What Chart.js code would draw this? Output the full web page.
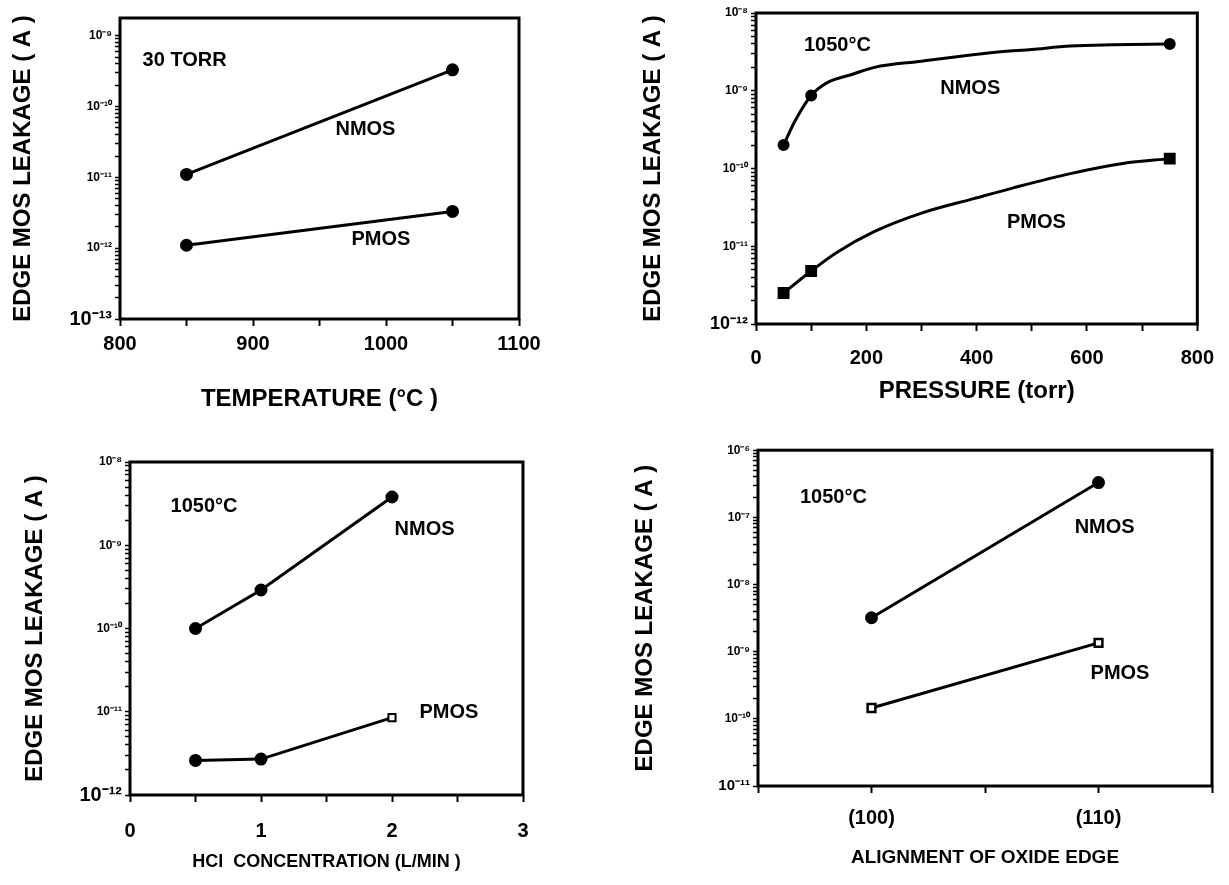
<!DOCTYPE html>
<html lang="en">

<head>
  <meta charset="UTF-8">
  <title>Edge MOS leakage</title>
  <style>
    body { margin: 0; background: #fff; width: 1229px; height: 885px; position: relative; overflow: hidden; }
    canvas { position: absolute; }
  </style>
</head>

<body>
  <canvas id="grafico1" width="560" height="430" style="left:0px;top:0px"></canvas>
  <canvas id="grafico2" width="629" height="430" style="left:600px;top:0px"></canvas>
  <canvas id="grafico3" width="560" height="445" style="left:0px;top:440px"></canvas>
  <canvas id="grafico4" width="609" height="445" style="left:620px;top:440px"></canvas>
</body>

</html>

<script src="https://cdn.jsdelivr.net/npm/chart.js"></script>

<script>
  // ---- dados ----
  // grafico 1: temperatura
  const tempC = [850, 1050];
  const nmosTemp = [1.1e-11, 3.3e-10];
  const pmosTemp = [1.1e-12, 3.3e-12];
  const tempLabels = [800, 900, 1000, 1100];
  const expTemp = [-13, -12, -11, -10, -9];

  // grafico 2: pressao (pontos medidos + curva desenhada)
  const pressPts = [50, 100, 750];
  const nmosPress = [2.0e-10, 8.7e-10, 4.0e-9];
  const pmosPress = [2.5e-12, 4.8e-12, 1.34e-10];
  const nmosCurvaX = [50, 70, 100, 130, 175, 215, 300, 375, 430, 500, 570, 645, 750];
  const nmosCurvaY = [2.0e-10, 4.0e-10, 8.7e-10, 1.28e-9, 1.63e-9, 2.0e-9, 2.4e-9, 2.8e-9, 3.1e-9, 3.4e-9, 3.75e-9, 3.9e-9, 4.0e-9];
  const pmosCurvaX = [50, 100, 145, 215, 300, 395, 465, 570, 665, 750];
  const pmosCurvaY = [2.5e-12, 4.8e-12, 8.2e-12, 1.55e-11, 2.67e-11, 4.1e-11, 5.6e-11, 8.6e-11, 1.16e-10, 1.34e-10];
  const pressLabels = [0, 200, 400, 600, 800];
  const expPress = [-12, -11, -10, -9, -8];

  // grafico 3: HCl
  const hclFluxo = [0.5, 1, 2];
  const nmosHcl = [1.0e-10, 2.9e-10, 3.8e-9];
  const pmosHcl = [2.6e-12, 2.7e-12, 8.5e-12];
  const hclLabels = [0, 1, 2, 3];
  const expHcl = [-12, -11, -10, -9, -8];

  // grafico 4: alinhamento
  const alinhamento = ['', '(100)', '', '(110)', ''];
  const nmosAlin = [null, 3.2e-9, null, 3.3e-7, null];
  const pmosAlin = [null, 1.45e-10, null, 1.35e-9, null];
  const expAlin = [-11, -10, -9, -8, -7, -6];

  const FONTE = '"Liberation Sans", Arial, Helvetica, sans-serif';
  const sup = { '-': '⁻', '0': '⁰', '1': '¹', '2': '²', '3': '³', '4': '⁴', '5': '⁵', '6': '⁶', '7': '⁷', '8': '⁸', '9': '⁹' };

  function potencia(e) {
    return '10' + String(e).split('').map(c => sup[c]).join('');
  }

  function pares(xs, ys) {
    return xs.map((x, i) => ({ x: x, y: ys[i] }));
  }

  // moldura preta em volta da area do grafico
  const moldura = {
    id: 'moldura',
    afterDraw(chart) {
      const { ctx, chartArea: a } = chart;
      ctx.save();
      ctx.strokeStyle = '#000';
      ctx.lineWidth = 3;
      ctx.strokeRect(a.left, a.top, a.right - a.left, a.bottom - a.top);
      ctx.restore();
    }
  };

  // textos dentro do grafico (NMOS, PMOS, condicao)
  const rotulos = {
    id: 'rotulos',
    afterDraw(chart, args, opts) {
      if (!opts.itens) return;
      const { ctx, scales } = chart;
      ctx.save();
      ctx.font = 'bold 20px ' + FONTE;
      ctx.fillStyle = '#000';
      ctx.textAlign = 'left';
      ctx.textBaseline = 'middle';
      opts.itens.forEach(r => {
        ctx.fillText(r.texto, scales.x.getPixelForValue(r.x), scales.y.getPixelForValue(r.y));
      });
      ctx.restore();
    }
  };

  Chart.register(moldura, rotulos);

  function eixoY(expos, maxVal, largura, padTitulo, fonteBase) {
    const minExp = expos[0];
    return {
      type: 'logarithmic',
      min: Math.pow(10, minExp),
      max: maxVal,
      afterFit: s => { s.width = largura; },
      afterBuildTicks: s => {
        const t = [];
        for (let e = minExp; e <= Math.ceil(Math.log10(maxVal)); e++) {
          for (let k = 1; k <= 9; k++) {
            const v = k * Math.pow(10, e);
            if (v <= maxVal * 1.0001) t.push({ value: v, major: k === 1 });
          }
        }
        s.ticks = t;
      },
      ticks: {
        autoSkip: false,
        color: '#000',
        padding: 3,
        font: ctx => ctx.index === 0 ? { family: FONTE, size: fonteBase, weight: 'bold' } : { family: FONTE, size: 12, weight: 'bold' },
        callback: v => {
          const l = Math.log10(v);
          const e = Math.round(l);
          return (Math.abs(l - e) < 1e-6 && expos.includes(e)) ? potencia(e) : '';
        }
      },
      grid: { drawOnChartArea: false, tickLength: 5, tickWidth: 1.5, tickColor: '#000' },
      border: { display: false },
      title: {
        display: true,
        text: 'EDGE MOS LEAKAGE ( A )',
        color: '#000',
        font: { family: FONTE, size: 24, weight: 'bold' },
        padding: { top: padTitulo, bottom: 0 }
      }
    };
  }

  function eixoX(min, max, passo, labels, altura, padTick, titulo, tamTitulo, padTitulo) {
    return {
      type: 'linear',
      min: min,
      max: max,
      afterFit: s => { s.height = altura; },
      ticks: {
        stepSize: passo,
        autoSkip: false,
        maxRotation: 0,
        color: '#000',
        padding: padTick,
        font: { family: FONTE, size: 20, weight: 'bold' },
        callback: v => labels.includes(v) ? String(v) : ''
      },
      grid: { drawOnChartArea: false, tickLength: 7, tickWidth: 2, tickColor: '#000' },
      border: { display: false },
      title: {
        display: true,
        text: titulo,
        color: '#000',
        font: { family: FONTE, size: tamTitulo, weight: 'bold' },
        padding: { top: 0, bottom: padTitulo }
      }
    };
  }

  function linha(dados, extra) {
    return Object.assign({
      data: dados,
      borderColor: '#000',
      borderWidth: 3,
      pointBackgroundColor: '#000',
      pointBorderColor: '#000',
      pointBorderWidth: 2,
      pointRadius: 5.5,
      pointStyle: 'circle',
      tension: 0,
      fill: false
    }, extra || {});
  }

  function opcoesBase(padding, escalas, itens) {
    return {
      responsive: false,
      animation: false,
      devicePixelRatio: 1,
      layout: { padding: padding },
      plugins: { legend: { display: false }, tooltip: { enabled: false }, rotulos: { itens: itens } },
      scales: escalas
    };
  }

  // grafico 1
  new Chart(document.getElementById('grafico1'), {
    type: 'line',
    data: {
      datasets: [
        linha(pares(tempC, nmosTemp)),
        linha(pares(tempC, pmosTemp))
      ]
    },
    options: opcoesBase({ top: 18, right: 41, left: 0, bottom: 0 }, {
      x: eixoX(800, 1100, 50, tempLabels, 111, 6, 'TEMPERATURE (°C )', 24, 16),
      y: eixoY(expTemp, Math.pow(10, -8.75), 120, 9, 20)
    }, [
      { texto: '30 TORR', x: 817, y: Math.pow(10, -9.35) },
      { texto: 'NMOS', x: 962, y: Math.pow(10, -10.33) },
      { texto: 'PMOS', x: 974, y: Math.pow(10, -11.88) }
    ])
  });

  // grafico 2
  new Chart(document.getElementById('grafico2'), {
    type: 'line',
    data: {
      datasets: [
        linha(pares(nmosCurvaX, nmosCurvaY), { pointRadius: 0, cubicInterpolationMode: 'monotone' }),
        linha(pares(pmosCurvaX, pmosCurvaY), { pointRadius: 0, cubicInterpolationMode: 'monotone' }),
        linha(pares(pressPts, nmosPress), { showLine: false, pointRadius: 5 }),
        linha(pares(pressPts, pmosPress), { showLine: false, pointStyle: 'rect', pointRadius: 7 })
      ]
    },
    options: opcoesBase({ top: 13, right: 21, left: 0, bottom: 0 }, {
      x: eixoX(0, 800, 100, pressLabels, 106, 15, 'PRESSURE (torr)', 24, 24),
      y: eixoY(expPress, 1e-8, 156, 39, 18)
    }, [
      { texto: '1050°C', x: 87, y: Math.pow(10, -8.42) },
      { texto: 'NMOS', x: 334, y: Math.pow(10, -8.97) },
      { texto: 'PMOS', x: 455, y: Math.pow(10, -10.69) }
    ])
  });

  // grafico 3
  new Chart(document.getElementById('grafico3'), {
    type: 'line',
    data: {
      datasets: [
        linha(pares(hclFluxo, nmosHcl)),
        linha(pares(hclFluxo, pmosHcl), {
          pointStyle: ['circle', 'circle', 'rect'],
          pointBackgroundColor: ['#000', '#000', '#fff'],
          pointRadius: [5.5, 5.5, 5]
        })
      ]
    },
    options: opcoesBase({ top: 22, right: 37, left: 0, bottom: 0 }, {
      x: eixoX(0, 3, 0.5, hclLabels, 90, 17, 'HCl  CONCENTRATION (L/MIN )', 18, 12),
      y: eixoY(expHcl, 1e-8, 130, 21, 20)
    }, [
      { texto: '1050°C', x: 0.31, y: Math.pow(10, -8.54) },
      { texto: 'NMOS', x: 2.02, y: Math.pow(10, -8.81) },
      { texto: 'PMOS', x: 2.21, y: Math.pow(10, -11.01) }
    ])
  });

  // grafico 4
  new Chart(document.getElementById('grafico4'), {
    type: 'line',
    data: {
      labels: alinhamento,
      datasets: [
        linha(nmosAlin, { spanGaps: true }),
        linha(pmosAlin, { spanGaps: true, pointStyle: 'rect', pointBackgroundColor: '#fff', pointRadius: 5.5, pointBorderWidth: 2.5 })
      ]
    },
    options: opcoesBase({ top: 10, right: 17, left: 0, bottom: 0 }, {
      x: {
        type: 'category',
        offset: false,
        afterFit: s => { s.height = 99; },
        ticks: { autoSkip: false, maxRotation: 0, color: '#000', padding: 13, font: { family: FONTE, size: 20, weight: 'bold' } },
        grid: { drawOnChartArea: false, tickLength: 7, tickWidth: 2, tickColor: '#000', offset: false },
        border: { display: false },
        title: {
          display: true,
          text: 'ALIGNMENT OF OXIDE EDGE',
          color: '#000',
          font: { family: FONTE, size: 19, weight: 'bold' },
          padding: { top: 0, bottom: 16 }
        }
      },
      y: eixoY(expAlin, 1e-6, 138, 11, 15)
    }, [
      { texto: '1050°C', x: 0.37, y: Math.pow(10, -6.70) },
      { texto: 'NMOS', x: 2.79, y: Math.pow(10, -7.15) },
      { texto: 'PMOS', x: 2.93, y: Math.pow(10, -9.32) }
    ])
  });
</script>
